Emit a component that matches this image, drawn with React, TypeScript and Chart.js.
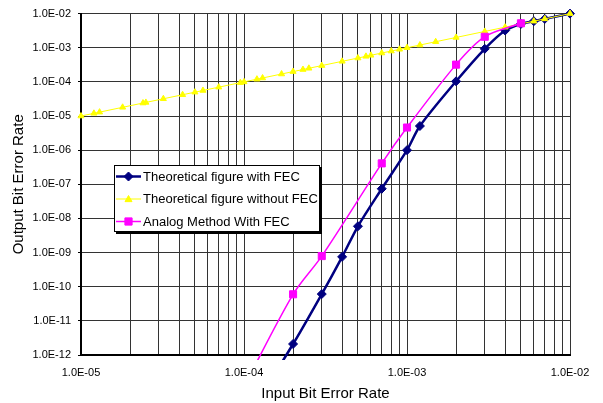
import React, { useEffect, useRef } from 'react';
import { Chart, registerables } from 'chart.js';

Chart.register(...registerables);

// ---- Data ----
const withFecX = [1e-4, 2e-4, 3e-4, 4e-4, 5e-4, 7e-4, 1e-3, 1.2e-3, 2e-3, 3e-3, 4e-3, 5e-3, 6e-3, 7e-3, 1e-2];
const withFecY = [1e-14, 2.1e-12, 6.1e-11, 7.5e-10, 5.9e-9, 7.4e-8, 1.0e-6, 5.1e-6, 1.04e-4, 9.3e-4, 3.2e-3, 5e-3, 6e-3, 7e-3, 1e-2];

const withoutFecX = [1e-5, 1.2e-5, 1.3e-5, 1.8e-5, 2.4e-5, 2.5e-5, 3.2e-5, 4.2e-5, 5e-5, 5.6e-5, 7e-5, 9.5e-5, 1e-4, 1.2e-4, 1.3e-4, 1.7e-4, 2e-4, 2.3e-4, 2.5e-4, 3e-4, 4e-4, 5e-4, 5.6e-4, 6e-4, 7e-4, 8e-4, 9e-4, 1e-3, 1.2e-3, 1.5e-3, 2e-3, 3e-3, 4e-3, 5e-3, 6e-3, 7e-3, 1e-2];
const withoutFecY = [1e-5, 1.2e-5, 1.3e-5, 1.8e-5, 2.4e-5, 2.5e-5, 3.2e-5, 4.2e-5, 5e-5, 5.6e-5, 7e-5, 9.5e-5, 1e-4, 1.2e-4, 1.3e-4, 1.7e-4, 2e-4, 2.3e-4, 2.5e-4, 3e-4, 4e-4, 5e-4, 5.6e-4, 6e-4, 7e-4, 8e-4, 9e-4, 1e-3, 1.2e-3, 1.5e-3, 2e-3, 3e-3, 4e-3, 5e-3, 6e-3, 7e-3, 1e-2];

const analogX = [1e-4, 2e-4, 3e-4, 7e-4, 1e-3, 2e-3, 3e-3, 5e-3];
const analogY = [1.2e-13, 6e-11, 7.9e-10, 4.1e-7, 4.6e-6, 3.2e-4, 2.1e-3, 5.2e-3];

const seriesNames = ['Theoretical figure with FEC', 'Theoretical figure without FEC', 'Analog Method With FEC'];

const xTickValues = [1e-5, 1e-4, 1e-3, 1e-2];
const xTickLabels = ['1.0E-05', '1.0E-04', '1.0E-03', '1.0E-02'];
const yTickValues = [1e-12, 1e-11, 1e-10, 1e-9, 1e-8, 1e-7, 1e-6, 1e-5, 1e-4, 1e-3, 1e-2];
const yTickLabels = ['1.0E-12', '1.0E-11', '1.0E-10', '1.0E-09', '1.0E-08', '1.0E-07', '1.0E-06', '1.0E-05', '1.0E-04', '1.0E-03', '1.0E-02'];
const xMinorMultipliers = [1, 2, 3, 4, 5, 6, 7, 8, 9];

const FONT = '"Liberation Sans", Arial, sans-serif';
const NAVY = '#000080';
const YELLOW = '#FFFF00';
const MAGENTA = '#FF00FF';

function toPoints(xs: number[], ys: number[]) {
  return xs.map((x, i) => ({ x, y: ys[i] }));
}

function labelFor(values: number[], labels: string[], v: number) {
  for (let i = 0; i < values.length; i++) {
    if (Math.abs(Math.log10(v) - Math.log10(values[i])) < 1e-6) return labels[i];
  }
  return '';
}

const xGridValues: number[] = [];
for (let d = 0; d < xTickValues.length - 1; d++) {
  for (const m of xMinorMultipliers) xGridValues.push(xTickValues[d] * m);
}
xGridValues.push(xTickValues[xTickValues.length - 1]);

function drawMarker(ctx: CanvasRenderingContext2D, kind: string, x: number, y: number, color: string) {
  ctx.fillStyle = color;
  ctx.strokeStyle = color;
  ctx.lineWidth = 1;
  ctx.beginPath();
  if (kind === 'diamond') {
    const r = 4.5;
    ctx.moveTo(x, y - r);
    ctx.lineTo(x + r, y);
    ctx.lineTo(x, y + r);
    ctx.lineTo(x - r, y);
    ctx.closePath();
  } else if (kind === 'triangle') {
    const r = 3.5;
    ctx.moveTo(x, y - r);
    ctx.lineTo(x + r, y + r * 0.75);
    ctx.lineTo(x - r, y + r * 0.75);
    ctx.closePath();
  } else {
    const s = 3.6;
    ctx.rect(x - s, y - s, 2 * s, 2 * s);
  }
  ctx.fill();
  ctx.stroke();
}

const legendPlugin = {
  id: 'boxLegend',
  afterDraw(chart: any) {
    const ctx: CanvasRenderingContext2D = chart.ctx;
    const bx = 114, by = 165, bw = 206, bh = 67;
    ctx.save();
    ctx.fillStyle = '#000';
    ctx.fillRect(bx + 2, by + 2, bw, bh);
    ctx.fillStyle = '#fff';
    ctx.fillRect(bx, by, bw, bh);
    ctx.strokeStyle = '#000';
    ctx.lineWidth = 1;
    ctx.strokeRect(bx + 0.5, by + 0.5, bw - 1, bh - 1);
    const rows = [176.5, 199, 221.5];
    const colors = [NAVY, YELLOW, MAGENTA];
    const widths = [2.5, 1, 1.5];
    const kinds = ['diamond', 'triangle', 'square'];
    for (let i = 0; i < 3; i++) {
      const y = rows[i];
      ctx.strokeStyle = colors[i];
      ctx.lineWidth = widths[i];
      ctx.beginPath();
      ctx.moveTo(116, y);
      ctx.lineTo(141, y);
      ctx.stroke();
      drawMarker(ctx, kinds[i], 128.5, y, colors[i]);
      ctx.fillStyle = '#000';
      ctx.font = `13px ${FONT}`;
      ctx.textBaseline = 'middle';
      ctx.textAlign = 'left';
      ctx.fillText(seriesNames[i], 143, y + 0.5);
    }
    ctx.restore();
  },
};

export default function App() {
  const ref = useRef<HTMLCanvasElement>(null);
  useEffect(() => {
    document.body.style.margin = '0';
    const clip = { left: 6, top: 6, right: 6, bottom: 5 };
    const chart = new Chart(ref.current as HTMLCanvasElement, {
      type: 'line',
      data: {
        datasets: [
          {
            label: seriesNames[0],
            data: toPoints(withFecX, withFecY),
            borderColor: NAVY,
            backgroundColor: NAVY,
            borderWidth: 2.5,
            pointStyle: 'rectRot',
            pointRadius: 4.5,
            pointBorderWidth: 1,
            tension: 0.3,
            order: 3,
            clip,
          },
          {
            label: seriesNames[1],
            data: toPoints(withoutFecX, withoutFecY),
            borderColor: YELLOW,
            backgroundColor: YELLOW,
            borderWidth: 1,
            pointStyle: 'triangle',
            pointRadius: 3.5,
            pointBorderWidth: 1,
            tension: 0,
            order: 2,
            clip,
          },
          {
            label: seriesNames[2],
            data: toPoints(analogX, analogY),
            borderColor: MAGENTA,
            backgroundColor: MAGENTA,
            borderWidth: 1.5,
            pointStyle: 'rect',
            pointRadius: 5,
            pointBorderWidth: 1,
            tension: 0.3,
            order: 1,
            clip,
          },
        ],
      } as any,
      options: {
        animation: false,
        responsive: false,
        devicePixelRatio: 1,
        layout: { padding: { top: 12, right: 33, left: 0, bottom: 0 } },
        plugins: { legend: { display: false }, tooltip: { enabled: false } },
        elements: { line: { fill: false } },
        scales: {
          x: {
            type: 'logarithmic',
            position: 'bottom',
            min: 1e-5,
            max: 1e-2,
            afterBuildTicks: (s: any) => {
              s.ticks = xGridValues.map((v) => ({ value: v }));
            },
            afterFit: (s: any) => {
              s.height = 48;
            },
            ticks: {
              autoSkip: false,
              maxRotation: 0,
              minRotation: 0,
              padding: 11,
              color: '#000',
              font: { family: FONT, size: 11 },
              callback: (v: any) => labelFor(xTickValues, xTickLabels, Number(v)),
            },
            grid: { color: '#333', lineWidth: 1, drawTicks: false },
            border: { color: '#000', width: 2 },
            title: {
              display: true,
              text: 'Input Bit Error Rate',
              color: '#000',
              font: { family: FONT, size: 15 },
              padding: { top: 1, bottom: 0 },
            },
          },
          y: {
            type: 'logarithmic',
            position: 'left',
            min: 1e-12,
            max: 1e-2,
            afterBuildTicks: (s: any) => {
              s.ticks = yTickValues.map((v) => ({ value: v }));
            },
            afterFit: (s: any) => {
              s.width = 81;
            },
            ticks: {
              autoSkip: false,
              padding: 7,
              color: '#000',
              font: { family: FONT, size: 11 },
              callback: (v: any) => labelFor(yTickValues, yTickLabels, Number(v)),
            },
            grid: { color: '#333', lineWidth: 1, drawTicks: true, tickLength: 3, tickColor: '#000' },
            border: { color: '#000', width: 2 },
            title: {
              display: true,
              text: 'Output Bit Error Rate',
              color: '#000',
              font: { family: FONT, size: 15 },
              padding: { top: 10, bottom: 0 },
            },
          },
        },
      } as any,
      plugins: [legendPlugin],
    });
    return () => chart.destroy();
  }, []);
  return (
    <div style={{ width: 603, height: 403, position: 'relative', background: '#fff' }}>
      <canvas ref={ref} width={603} height={403} style={{ display: 'block' }} />
    </div>
  );
}
